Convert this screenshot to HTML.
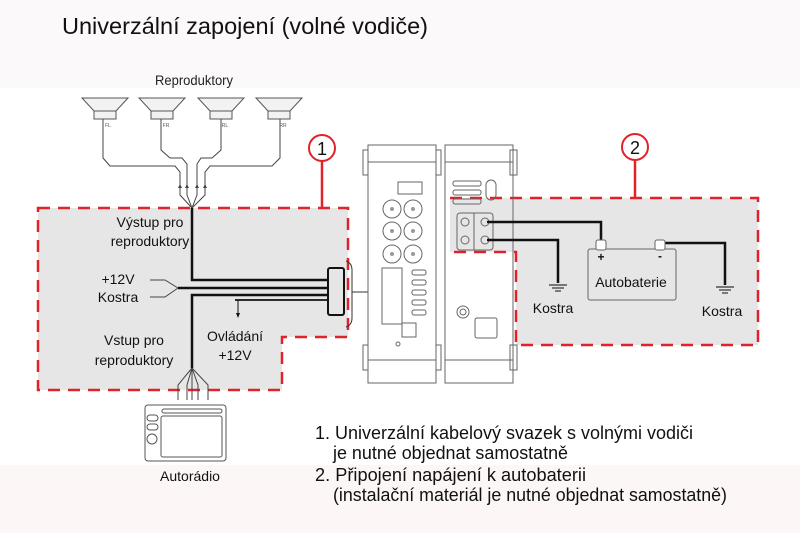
<!DOCTYPE html>
<html><head><meta charset="utf-8"><style>
html,body{margin:0;padding:0;background:#fff;}
svg{display:block;font-family:"Liberation Sans",sans-serif;}
</style></head><body>
<svg width="800" height="533" viewBox="0 0 800 533" xmlns="http://www.w3.org/2000/svg">
<rect x="0" y="0" width="800" height="88" fill="#fcf9fa"/>
<rect x="0" y="465" width="800" height="68" fill="#fcf6f6"/>
<text x="62" y="34" font-size="23" fill="#111" textLength="366" lengthAdjust="spacingAndGlyphs">Univerzální zapojení (volné vodiče)</text>
<text x="155" y="85" font-size="14" fill="#222" textLength="78" lengthAdjust="spacingAndGlyphs">Reproduktory</text>

<path d="M38,208 H348 V337 H282 V390 H38 Z" fill="#e6e6e6" stroke="#e0222a" stroke-width="2.5" stroke-dasharray="12,8"/>
<path d="M450,198 H758 V345 H516 V252 H450 Z" fill="#e6e6e6" stroke="none"/>
<path d="M450,198 H758 V345 H516 V252 H450" fill="none" stroke="#e0222a" stroke-width="2.5" stroke-dasharray="12,8"/>
<line x1="322" y1="161" x2="322" y2="208" stroke="#e0222a" stroke-width="2.5"/>
<circle cx="322" cy="148" r="13" fill="#fff" stroke="#e0222a" stroke-width="2"/>
<text x="322" y="155" font-size="18" text-anchor="middle" fill="#111">1</text>
<line x1="635" y1="160" x2="635" y2="198" stroke="#e0222a" stroke-width="2.5"/>
<circle cx="635" cy="147" r="13" fill="#fff" stroke="#e0222a" stroke-width="2"/>
<text x="635" y="154" font-size="18" text-anchor="middle" fill="#111">2</text>

<g fill="#f2f2f2" stroke="#555" stroke-width="1">
<path d="M82,98 H128 L116,111 H94 Z"/><rect x="94" y="111" width="22" height="8"/>
<path d="M139,98 H185 L173,111 H151 Z"/><rect x="151" y="111" width="22" height="8"/>
<path d="M198,98 H244 L232,111 H210 Z"/><rect x="210" y="111" width="22" height="8"/>
<path d="M256,98 H302 L290,111 H268 Z"/><rect x="268" y="111" width="22" height="8"/>
</g>
<g font-size="5" fill="#555" text-anchor="middle"><text x="108" y="127">FL</text><text x="166" y="127">FR</text><text x="225" y="127">RL</text><text x="283" y="127">RR</text></g>
<g fill="none" stroke="#444" stroke-width="1">
<path d="M103,119 V158 L110,166 H175 L180,172 V195 L192,208"/>
<path d="M161,119 V150 L170,158 H182 L187,164 V195 L192,208"/>
<path d="M221,119 V150 L212,158 H201 L197,164 V195 L192,208"/>
<path d="M280,119 V158 L272,166 H210 L205,172 V195 L192,208"/>
</g>
<g fill="#444"><path d="M180,184 l-2,4 h4z"/><path d="M187,184 l-2,4 h4z"/><path d="M197,184 l-2,4 h4z"/><path d="M205,184 l-2,4 h4z"/></g>

<g fill="none" stroke="#111" stroke-width="2.5">
<path d="M192,208 V280 H330"/>
<path d="M178,288 H330"/>
<path d="M192,368 V295 H330"/>
</g>
<line x1="235" y1="300" x2="330" y2="300" stroke="#111" stroke-width="1.8"/>
<path d="M238,300 V314" stroke="#111" stroke-width="1" fill="none"/><path d="M238,318 l-2,-5 h4z" fill="#111"/>
<g fill="none" stroke="#444" stroke-width="1"><path d="M150,280 H165 L178,288"/><path d="M150,297 H165 L178,288"/></g>
<rect x="328" y="268" width="16" height="47" rx="2" fill="#e6e6e6" stroke="#111" stroke-width="2"/>
<path d="M346,261 Q352,263 352,270 V318 Q352,325 346,327" fill="none" stroke="#333" stroke-width="1"/>
<line x1="352" y1="292" x2="390" y2="292" stroke="#333" stroke-width="1"/>
<g fill="none" stroke="#444" stroke-width="1">
<path d="M192,368 L178,385 V400"/><path d="M192,368 L187,385 V400"/><path d="M192,368 V400"/><path d="M192,368 L198,385 V400"/><path d="M192,368 L208,385 V400"/>
</g>

<g font-size="14" fill="#111">
<text x="150" y="227" text-anchor="middle">Výstup pro</text>
<text x="150" y="246" text-anchor="middle">reproduktory</text>
<text x="118" y="284" text-anchor="middle">+12V</text>
<text x="118" y="302" text-anchor="middle">Kostra</text>
<text x="134" y="345" text-anchor="middle">Vstup pro</text>
<text x="134" y="365" text-anchor="middle">reproduktory</text>
<text x="235" y="341" text-anchor="middle">Ovládání</text>
<text x="235" y="360" text-anchor="middle">+12V</text>
</g>

<rect x="145" y="405" width="81" height="56" rx="3" fill="#fff" stroke="#555"/>
<rect x="162" y="409" width="60" height="4" rx="2" fill="none" stroke="#555"/>
<rect x="161" y="416" width="61" height="41" rx="2" fill="none" stroke="#555"/>
<rect x="147" y="415" width="11" height="6" rx="3" fill="none" stroke="#555"/>
<rect x="147" y="424" width="11" height="6" rx="3" fill="none" stroke="#555"/>
<circle cx="152" cy="439" r="5" fill="none" stroke="#555"/>
<text x="190" y="481" font-size="14" text-anchor="middle" fill="#111">Autorádio</text>

<g fill="#fff" stroke="#666" stroke-width="1">
<rect x="363" y="150" width="7" height="25"/><rect x="363" y="345" width="7" height="25"/>
<rect x="434" y="150" width="7" height="25"/><rect x="434" y="345" width="7" height="25"/>
<rect x="368" y="145" width="68" height="238"/>
<line x1="368" y1="162" x2="436" y2="162"/><line x1="368" y1="360" x2="436" y2="360"/>
<rect x="398" y="182" width="24" height="12"/>
<circle cx="392" cy="209" r="9"/><circle cx="413" cy="209" r="9"/>
<circle cx="392" cy="231" r="9"/><circle cx="413" cy="231" r="9"/>
<circle cx="392" cy="254" r="9"/><circle cx="413" cy="254" r="9"/>
<rect x="382" y="268" width="20" height="56"/>
<rect x="412" y="270" width="14" height="5" rx="2"/><rect x="412" y="280" width="14" height="5" rx="2"/><rect x="412" y="290" width="14" height="5" rx="2"/><rect x="412" y="300" width="14" height="5" rx="2"/><rect x="412" y="310" width="14" height="5" rx="2"/>
<rect x="402" y="323" width="14" height="14"/>
<circle cx="398" cy="344" r="2"/>
</g>
<g fill="#999"><circle cx="392" cy="209" r="2"/><circle cx="413" cy="209" r="2"/><circle cx="392" cy="231" r="2"/><circle cx="413" cy="231" r="2"/><circle cx="392" cy="254" r="2"/><circle cx="413" cy="254" r="2"/></g>

<g fill="none" stroke="#666" stroke-width="1">
<rect x="510" y="150" width="7" height="25" fill="#fff"/><rect x="510" y="345" width="7" height="25" fill="#fff"/>
<rect x="445" y="145" width="68" height="238"/>
<line x1="445" y1="162" x2="513" y2="162"/><line x1="445" y1="360" x2="513" y2="360"/>
<rect x="453" y="181" width="28" height="5" rx="2"/><rect x="453" y="190" width="28" height="5" rx="2"/><rect x="453" y="199" width="28" height="5" rx="2"/>
<rect x="486" y="180" width="10" height="20" rx="5"/>
<rect x="457" y="213" width="36" height="37" rx="3"/>
<line x1="474" y1="213" x2="474" y2="250"/>
<circle cx="465" cy="222" r="4"/><circle cx="485" cy="222" r="4"/><circle cx="465" cy="240" r="4"/><circle cx="485" cy="240" r="4"/>
<circle cx="463" cy="312" r="6"/><circle cx="463" cy="312" r="3"/>
<rect x="475" y="318" width="22" height="20" rx="2"/>
</g>

<g fill="none" stroke="#111" stroke-width="2.5">
<path d="M487,222 H601 V240"/>
<path d="M487,240 H558 V283"/>
<path d="M663,243 H725 V285"/>
</g>
<g stroke="#333" stroke-width="1.2"><line x1="549" y1="285" x2="567" y2="285"/><line x1="552" y1="288" x2="564" y2="288"/><line x1="555" y1="291" x2="561" y2="291"/>
<line x1="716" y1="287" x2="734" y2="287"/><line x1="719" y1="290" x2="731" y2="290"/><line x1="722" y1="293" x2="728" y2="293"/></g>
<rect x="588" y="249" width="88" height="51" rx="2" fill="#e6e6e6" stroke="#666"/>
<rect x="596" y="240" width="10" height="10" rx="2" fill="#fff" stroke="#666"/>
<rect x="655" y="240" width="10" height="10" rx="2" fill="#fff" stroke="#666"/>
<text x="601" y="261" font-size="12" font-weight="bold" text-anchor="middle" fill="#111">+</text>
<text x="660" y="260" font-size="12" font-weight="bold" text-anchor="middle" fill="#111">-</text>
<g font-size="14" fill="#111">
<text x="631" y="287" text-anchor="middle">Autobaterie</text>
<text x="553" y="313" text-anchor="middle">Kostra</text>
<text x="722" y="316" text-anchor="middle">Kostra</text>
</g>

<g font-size="18" fill="#111">
<text x="315" y="439" textLength="378" lengthAdjust="spacingAndGlyphs">1. Univerzální kabelový svazek s volnými vodiči</text>
<text x="333" y="459" textLength="235" lengthAdjust="spacingAndGlyphs">je nutné objednat samostatně</text>
<text x="315" y="481" textLength="271" lengthAdjust="spacingAndGlyphs">2. Připojení napájení k autobaterii</text>
<text x="333" y="501" textLength="394" lengthAdjust="spacingAndGlyphs">(instalační materiál je nutné objednat samostatně)</text>
</g>
</svg>
</body></html>
